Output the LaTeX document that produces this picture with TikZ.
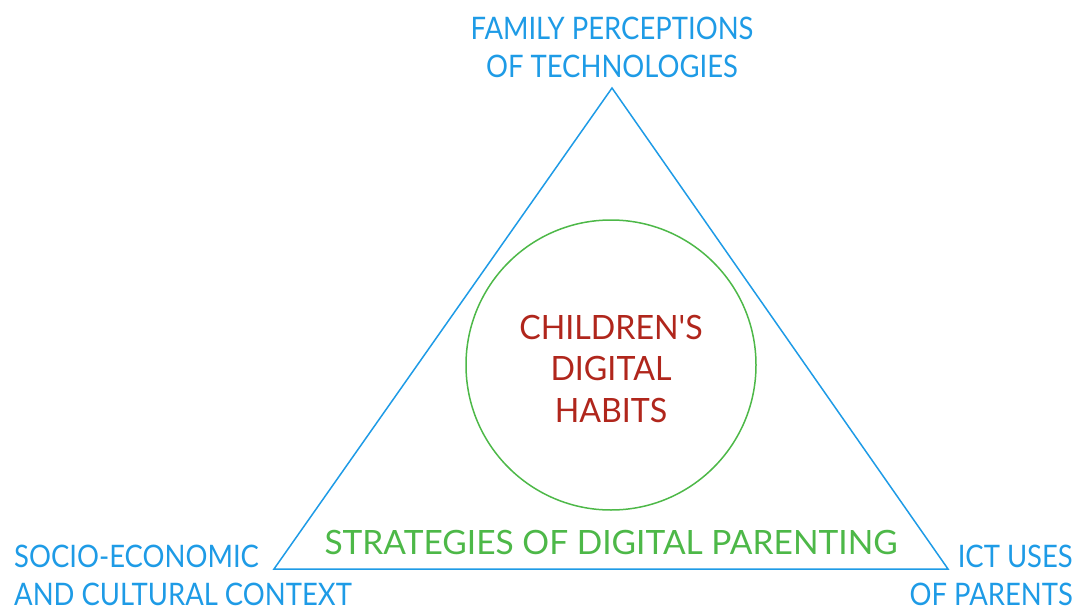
\documentclass[tikz,border=0pt]{standalone}
\usepackage{fontspec}
\setmainfont{Lato}
% Lato un peu resserré (les \newfontfamily gardent l'apostrophe droite)
\newfontfamily\policeetroite{Lato}[FakeStretch=0.885]
\newfontfamily\policemoyenne{Lato}[FakeStretch=0.96]
\definecolor{bleu}{HTML}{1E9BE6}
\definecolor{vert}{HTML}{4DB848}
\definecolor{rouge}{HTML}{B0261C}
\tikzset{
  facteur/.style={text=bleu, font=\policeetroite\fontsize{31}{38}\selectfont, inner sep=0pt},
  habitudes/.style={text=rouge, font=\policemoyenne\fontsize{33.5}{41.5}\selectfont, inner sep=0pt, align=center},
  strategies/.style={text=vert, font=\fontsize{33.5}{40}\selectfont, inner sep=0pt}
}
\begin{document}
\begin{tikzpicture}[x=1pt, y=-1pt]
    \useasboundingbox (0,0) rectangle (1077,610);

    % Sommets du triangle
    \coordinate (sommet) at (612,88);
    \coordinate (gauche) at (274,569);
    \coordinate (droite) at (948,569);
    \draw[bleu, line width=1.5pt] (sommet) -- (gauche) -- (droite) -- cycle;

    % Cercle central
    \node[circle, draw=vert, line width=1.5pt, minimum size=290pt, inner sep=0pt] (cercle) at (611,365) {};
    \node[habitudes, anchor=north] (enfants) at (611,315) {CHILDREN'S\\DIGITAL\\HABITS};

    % Stratégies en bas du triangle
    \node[strategies, anchor=north] (parentalite) at (611,530) {STRATEGIES OF DIGITAL PARENTING};

    % Les trois facteurs aux sommets
    \node[facteur, anchor=north, align=center] (perceptions) at (612,17) {FAMILY PERCEPTIONS\\OF TECHNOLOGIES};
    \node[facteur, anchor=north west, align=left] (contexte) at (14,545) {SOCIO-ECONOMIC\\AND CULTURAL CONTEXT};
    \node[facteur, anchor=north east, align=right] (usages) at (1073,545) {ICT USES\\OF PARENTS};
\end{tikzpicture}
\end{document}
